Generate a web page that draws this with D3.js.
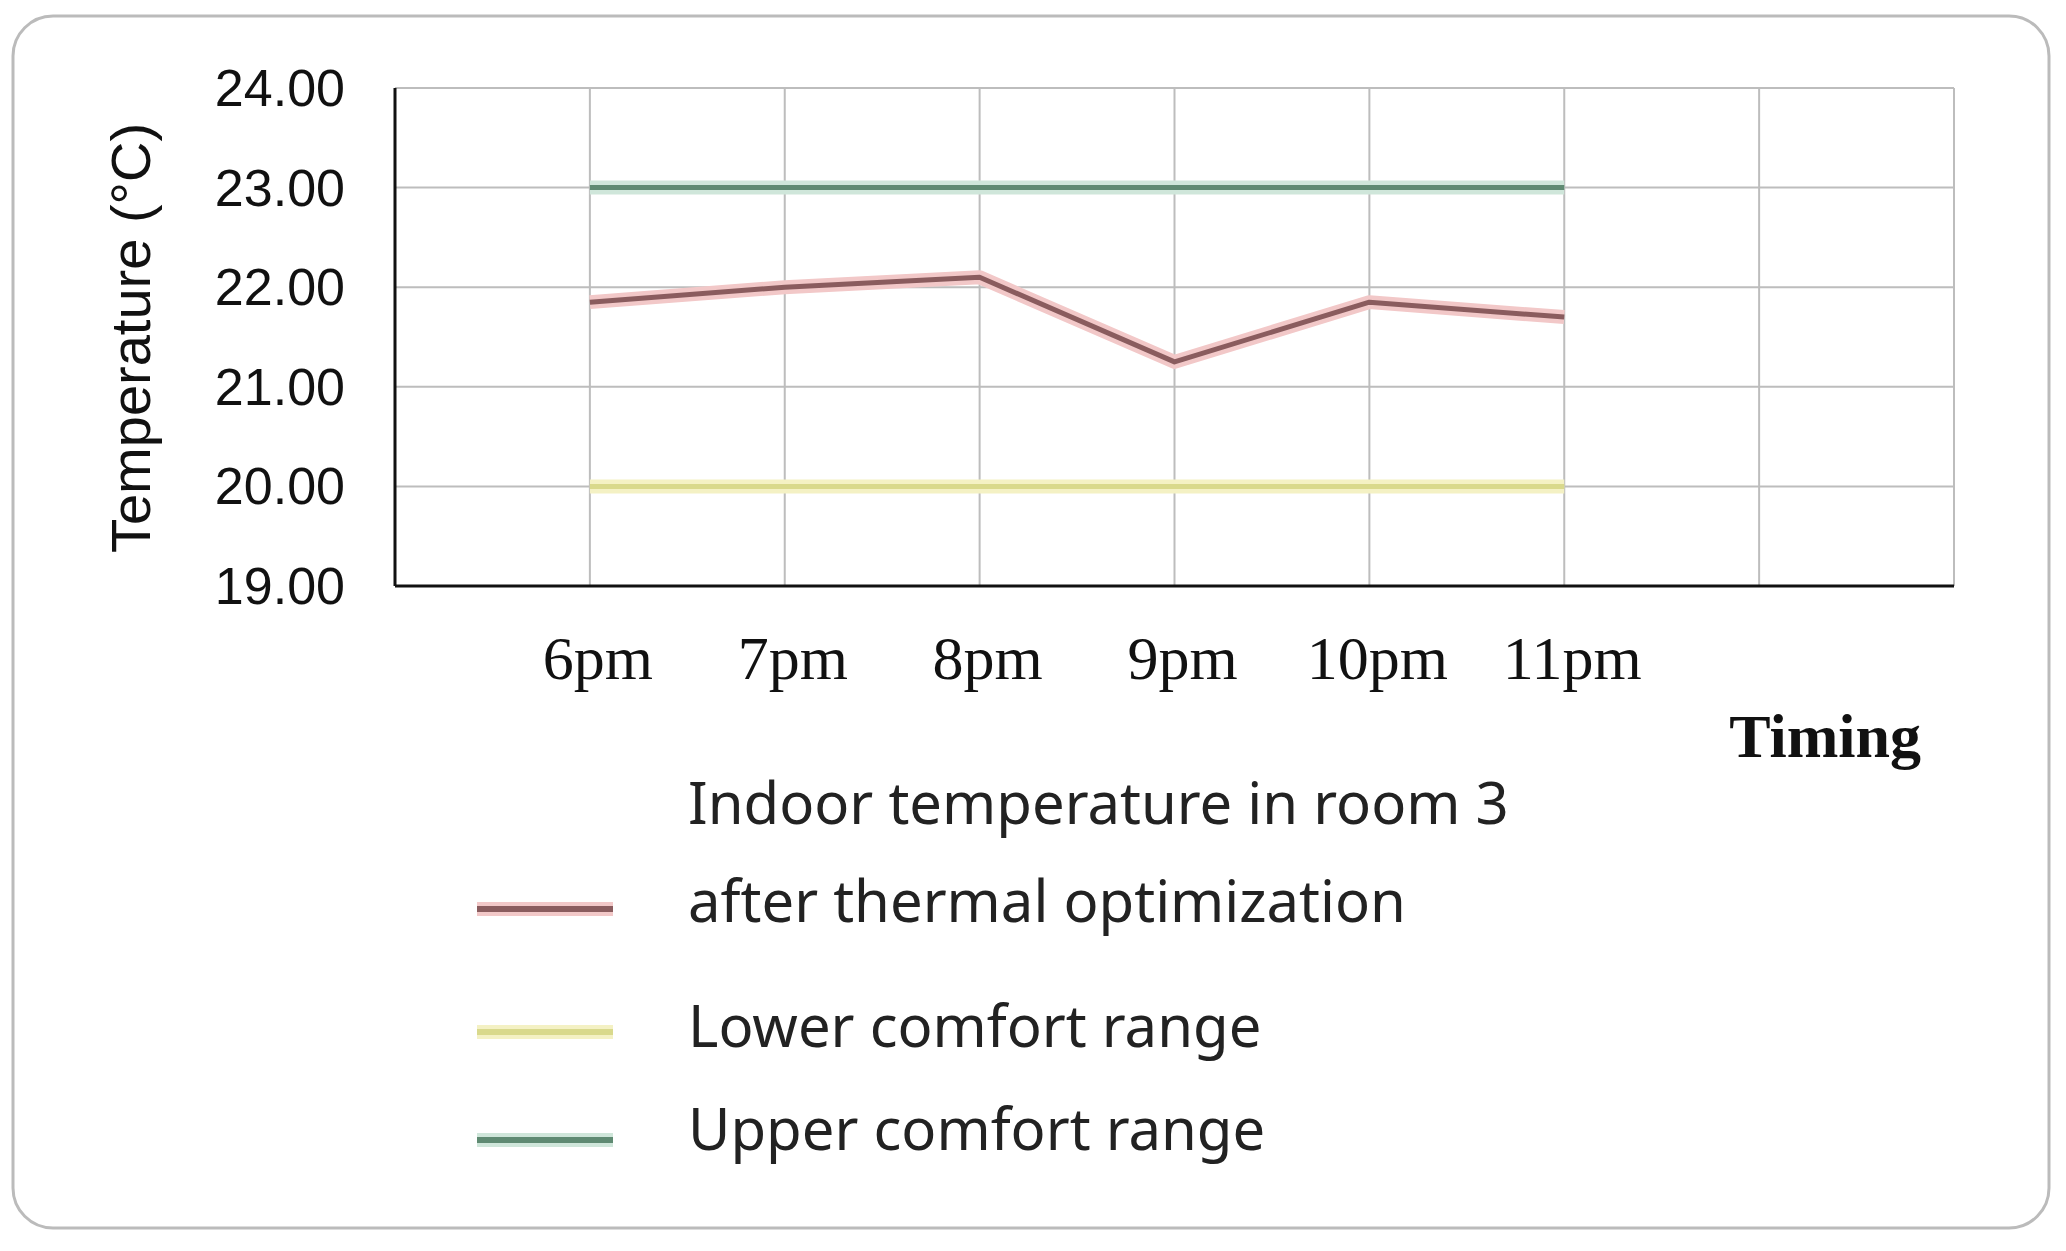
<!DOCTYPE html>
<html><head><meta charset="utf-8">
<script src="https://cdn.jsdelivr.net/npm/d3@7"></script>
<style>body{margin:0;background:#fff}</style>
</head><body>
<svg id="chart" width="2066" height="1251"></svg>
<script>
var timings = ["6pm", "7pm", "8pm", "9pm", "10pm", "11pm"];
var indoorTemp = [21.85, 22.0, 22.1, 21.25, 21.85, 21.7];
var lowerRange = [20, 20, 20, 20, 20, 20];
var upperRange = [23, 23, 23, 23, 23, 23];
var yTicks = [19, 20, 21, 22, 23, 24];
var legendLabels = [["Indoor temperature in room 3", "after thermal optimization"], ["Lower comfort range"], ["Upper comfort range"]];

(function () {
var svg = d3.select("#chart");
svg.append("rect").attr("x", 13).attr("y", 16).attr("width", 2036).attr("height", 1212)
  .attr("rx", 40).attr("fill", "#fff").attr("stroke", "#bbb").attr("stroke-width", 3);

var pLeft = 395, pRight = 1954, pTop = 88, pBottom = 586;
var x = d3.scaleLinear().domain([-1, 7]).range([pLeft, pRight]);
var y = d3.scaleLinear().domain([19, 24]).range([pBottom, pTop]);

// grid
svg.append("g").selectAll("line").data(yTicks.slice(1)).join("line")
  .attr("x1", pLeft).attr("x2", pRight).attr("y1", d => y(d)).attr("y2", d => y(d))
  .attr("stroke", "#bdbdbd").attr("stroke-width", 2);
svg.append("g").selectAll("line").data(d3.range(0, 8)).join("line")
  .attr("x1", d => x(d)).attr("x2", d => x(d)).attr("y1", pTop).attr("y2", pBottom)
  .attr("stroke", "#bdbdbd").attr("stroke-width", 2);

// axes
svg.append("line").attr("x1", pLeft).attr("x2", pLeft).attr("y1", pTop).attr("y2", pBottom).attr("stroke", "#111").attr("stroke-width", 3);
svg.append("line").attr("x1", pLeft).attr("x2", pRight).attr("y1", pBottom).attr("y2", pBottom).attr("stroke", "#111").attr("stroke-width", 3);

svg.append("g").selectAll("text").data(yTicks).join("text")
  .attr("x", 345).attr("y", d => y(d) + 18).attr("text-anchor", "end")
  .attr("font-family", "Liberation Sans, Arial, sans-serif").attr("font-size", 52).attr("fill", "#111")
  .text(d => d.toFixed(2));
svg.append("text").attr("transform", "translate(150,338) rotate(-90)").attr("text-anchor", "middle")
  .attr("font-family", "Liberation Sans, Arial, sans-serif").attr("font-size", 56).attr("fill", "#111")
  .text("Temperature (°C)");

svg.append("g").selectAll("text").data(timings).join("text")
  .attr("x", (d, i) => x(i) + 8).attr("y", 679).attr("text-anchor", "middle")
  .attr("font-family", "Liberation Serif, Times New Roman, serif").attr("font-size", 62).attr("fill", "#111")
  .text(d => d);
svg.append("text").attr("x", 1921).attr("y", 757).attr("text-anchor", "end")
  .attr("font-family", "Liberation Serif, Times New Roman, serif").attr("font-size", 62).attr("font-weight", "bold").attr("fill", "#111")
  .text("Timing");

var line = d3.line().x((d, i) => x(i)).y(d => y(d));
var series = [
  {data: lowerRange, color: "#d9d98c", glow: "#f4f1c4"},
  {data: upperRange, color: "#5f8a72", glow: "#cfe6da"},
  {data: indoorTemp, color: "#8a5c5e", glow: "#f2c8c8"}
];
series.forEach(function (s) {
  svg.append("path").attr("d", line(s.data)).attr("fill", "none").attr("stroke", s.glow).attr("stroke-width", 14).attr("stroke-linejoin", "round");
  svg.append("path").attr("d", line(s.data)).attr("fill", "none").attr("stroke", s.color).attr("stroke-width", 5).attr("stroke-linejoin", "round");
});

// legend
var legY = [[824, 922, 909], [1047, null, 1032], [1150, null, 1140]];
var legCols = [series[2], series[0], series[1]];
legendLabels.forEach(function (lab, i) {
  var g = svg.append("g");
  g.append("line").attr("x1", 477).attr("x2", 613).attr("y1", legY[i][2]).attr("y2", legY[i][2])
    .attr("stroke", legCols[i].glow).attr("stroke-width", 14);
  g.append("line").attr("x1", 477).attr("x2", 613).attr("y1", legY[i][2]).attr("y2", legY[i][2])
    .attr("stroke", legCols[i].color).attr("stroke-width", 6);
  lab.forEach(function (t, j) {
    g.append("text").attr("x", 688).attr("y", j === 0 ? legY[i][0] : legY[i][1])
      .attr("font-family", "Noto Sans, Open Sans, sans-serif").attr("font-size", 58).attr("fill", "#222").text(t);
  });
});
})();
</script>
</body></html>
